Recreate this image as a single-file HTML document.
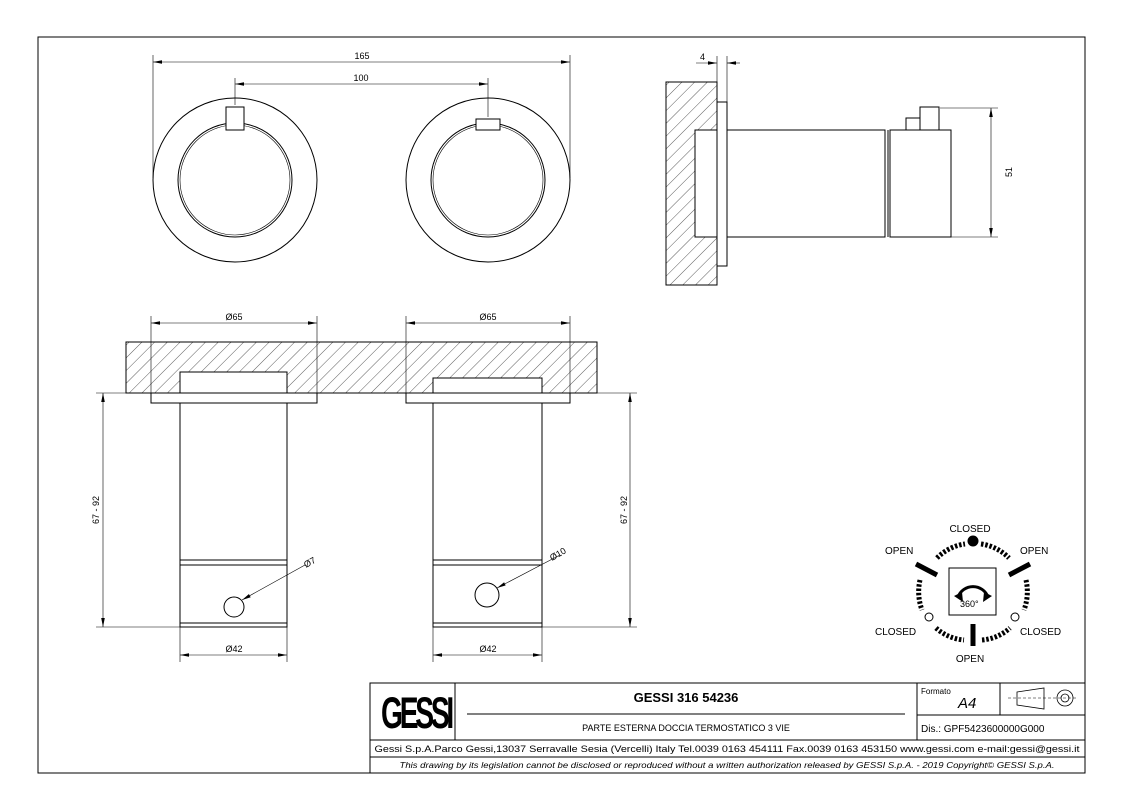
<!DOCTYPE html>
<html><head><meta charset="utf-8"><style>
body{margin:0;background:#fff}
svg{display:block;font-family:"Liberation Sans",sans-serif}
</style></head><body>
<svg width="1123" height="794" viewBox="0 0 1123 794" xmlns="http://www.w3.org/2000/svg">
<defs>
<pattern id="h" width="9" height="9" patternUnits="userSpaceOnUse" patternTransform="rotate(45)">
<rect width="9" height="9" fill="#fff"/><line x1="0" y1="0" x2="0" y2="9" stroke="#333" stroke-width="0.8"/></pattern>
<marker id="a" viewBox="0 0 10 10" refX="10" refY="5" markerWidth="9" markerHeight="9" markerUnits="userSpaceOnUse" orient="auto-start-reverse"><path d="M0,3 L10,5 L0,7z" fill="#000"/></marker>
</defs>
<g fill="none" stroke="#000" stroke-width="1">
<rect x="38" y="37" width="1047" height="736"/>
<circle cx="235" cy="180" r="82"/><circle cx="235" cy="180" r="57"/><circle cx="235" cy="180" r="55" stroke-width="0.6"/>
<rect x="226" y="107" width="18" height="23" fill="#fff"/>
<circle cx="488" cy="180" r="82"/><circle cx="488" cy="180" r="57"/><circle cx="488" cy="180" r="55" stroke-width="0.6"/>
<rect x="476" y="119" width="24" height="11" fill="#fff"/>
<line x1="153" y1="55" x2="153" y2="178" stroke-width="0.6"/><line x1="570" y1="55" x2="570" y2="178" stroke-width="0.6"/>
<line x1="153" y1="62" x2="570" y2="62" stroke-width="0.6" marker-start="url(#a)" marker-end="url(#a)"/>
<line x1="235" y1="78" x2="235" y2="105" stroke-width="0.6"/><line x1="488" y1="78" x2="488" y2="117" stroke-width="0.6"/>
<line x1="235" y1="84" x2="488" y2="84" stroke-width="0.6" marker-start="url(#a)" marker-end="url(#a)"/>
<rect x="666" y="82" width="51" height="203" fill="url(#h)"/>
<rect x="695" y="130" width="22" height="107" fill="#fff"/>
<rect x="717" y="102" width="10" height="164" fill="#fff"/>
<rect x="727" y="130" width="158" height="107"/>
<line x1="888" y1="130" x2="888" y2="237"/>
<rect x="890" y="130" width="61" height="107"/>
<rect x="920" y="107" width="19" height="23"/>
<rect x="906" y="118" width="14" height="12"/>
<line x1="940" y1="108" x2="998" y2="108" stroke-width="0.6"/><line x1="951" y1="237" x2="998" y2="237" stroke-width="0.6"/>
<line x1="991" y1="108" x2="991" y2="237" stroke-width="0.6" marker-start="url(#a)" marker-end="url(#a)"/>
<line x1="717" y1="56" x2="717" y2="102" stroke-width="0.6"/><line x1="727" y1="56" x2="727" y2="102" stroke-width="0.6"/>
<line x1="696" y1="63" x2="717" y2="63" stroke-width="0.6" marker-end="url(#a)"/>
<line x1="740" y1="63" x2="727" y2="63" stroke-width="0.6" marker-end="url(#a)"/>
<rect x="126" y="342" width="471" height="51" fill="url(#h)"/>
<rect x="180" y="372" width="107" height="21" fill="#fff"/>
<rect x="433" y="378" width="109" height="15" fill="#fff"/>
<rect x="151" y="393" width="166" height="10" fill="#fff"/>
<rect x="406" y="393" width="164" height="10" fill="#fff"/>
<rect x="180" y="403" width="107" height="224"/><line x1="180" y1="560" x2="287" y2="560"/><line x1="180" y1="565" x2="287" y2="565"/>
<rect x="433" y="403" width="109" height="224"/><line x1="433" y1="560" x2="542" y2="560"/><line x1="433" y1="565" x2="542" y2="565"/>
<line x1="180" y1="623" x2="287" y2="623"/><line x1="433" y1="623" x2="542" y2="623"/>
<circle cx="234" cy="607" r="10"/><circle cx="487" cy="595" r="12"/>
<line x1="305" y1="565" x2="242" y2="600" stroke-width="0.6" marker-end="url(#a)"/><line x1="560" y1="555" x2="497" y2="588" stroke-width="0.6" marker-end="url(#a)"/>
<line x1="151" y1="316" x2="151" y2="393" stroke-width="0.6"/><line x1="317" y1="316" x2="317" y2="393" stroke-width="0.6"/>
<line x1="151" y1="323" x2="317" y2="323" stroke-width="0.6" marker-start="url(#a)" marker-end="url(#a)"/>
<line x1="406" y1="316" x2="406" y2="393" stroke-width="0.6"/><line x1="570" y1="316" x2="570" y2="393" stroke-width="0.6"/>
<line x1="406" y1="323" x2="570" y2="323" stroke-width="0.6" marker-start="url(#a)" marker-end="url(#a)"/>
<line x1="180" y1="627" x2="180" y2="662" stroke-width="0.6"/><line x1="287" y1="627" x2="287" y2="662" stroke-width="0.6"/>
<line x1="180" y1="655" x2="287" y2="655" stroke-width="0.6" marker-start="url(#a)" marker-end="url(#a)"/>
<line x1="433" y1="627" x2="433" y2="662" stroke-width="0.6"/><line x1="542" y1="627" x2="542" y2="662" stroke-width="0.6"/>
<line x1="433" y1="655" x2="542" y2="655" stroke-width="0.6" marker-start="url(#a)" marker-end="url(#a)"/>
<line x1="96" y1="393" x2="126" y2="393" stroke-width="0.6"/><line x1="96" y1="627" x2="180" y2="627" stroke-width="0.6"/>
<line x1="103" y1="393" x2="103" y2="627" stroke-width="0.6" marker-start="url(#a)" marker-end="url(#a)"/>
<line x1="597" y1="393" x2="637" y2="393" stroke-width="0.6"/><line x1="542" y1="627" x2="637" y2="627" stroke-width="0.6"/>
<line x1="630" y1="393" x2="630" y2="627" stroke-width="0.6" marker-start="url(#a)" marker-end="url(#a)"/>
<rect x="949" y="568" width="47" height="47"/>
<circle cx="929" cy="617" r="4"/><circle cx="1015" cy="617" r="4"/>
<circle cx="973" cy="541" r="5" fill="#000"/>
<g stroke-width="5">
<line x1="916" y1="564" x2="937" y2="575"/><line x1="1030" y1="564" x2="1009" y2="575"/><line x1="973" y1="624" x2="973" y2="646"/>
</g>
<g stroke-width="5" stroke-dasharray="2.5 1.8">
<path d="M937,558 A48,48 0 0 1 965,544"/><path d="M981,544 A48,48 0 0 1 1009,558"/>
<path d="M920,580 A52,52 0 0 0 922,610"/><path d="M1026,580 A52,52 0 0 1 1024,610"/>
<path d="M936,628 A48,48 0 0 0 964,640"/><path d="M982,640 A48,48 0 0 0 1010,628"/>
</g>
<path d="M958,597 A16,16 0 0 1 988,597" stroke-width="3"/>
<rect x="370" y="683" width="715" height="90"/>
<line x1="370" y1="740" x2="1085" y2="740"/><line x1="370" y1="757" x2="1085" y2="757"/>
<line x1="455" y1="683" x2="455" y2="740"/><line x1="917" y1="683" x2="917" y2="740"/>
<line x1="1000" y1="683" x2="1000" y2="715"/><line x1="917" y1="715" x2="1085" y2="715"/>
<line x1="467" y1="714" x2="905" y2="714"/>
<path d="M1017,692 L1044,688 L1044,709 L1017,705z" stroke-width="0.8"/>
<circle cx="1065" cy="698" r="8" stroke-width="0.8"/><circle cx="1065" cy="698" r="4" stroke-width="0.8"/>
<line x1="1008" y1="698" x2="1078" y2="698" stroke-width="0.5" stroke-dasharray="3 2"/>
</g>
<path d="M954,596 L962,592 L963,602z M992,596 L984,592 L983,602z" fill="#000"/>
<g font-size="9" fill="#000">
<text x="362" y="59" text-anchor="middle">165</text>
<text x="361" y="81" text-anchor="middle">100</text>
<text x="700" y="60">4</text>
<text x="1012" y="172" transform="rotate(-90 1012 172)" text-anchor="middle">51</text>
<text x="234" y="320" text-anchor="middle">Ø65</text><text x="488" y="320" text-anchor="middle">Ø65</text>
<text x="234" y="652" text-anchor="middle">Ø42</text><text x="488" y="652" text-anchor="middle">Ø42</text>
<text x="99" y="510" transform="rotate(-90 99 510)" text-anchor="middle">67 - 92</text>
<text x="627" y="510" transform="rotate(-90 627 510)" text-anchor="middle">67 - 92</text>
<text x="306" y="568" transform="rotate(-30 306 568)">Ø7</text>
<text x="552" y="561" transform="rotate(-30 552 561)">Ø10</text>
<text x="970" y="532" text-anchor="middle" font-size="10">CLOSED</text>
<text x="885" y="554" font-size="10">OPEN</text><text x="1020" y="554" font-size="10">OPEN</text>
<text x="875" y="635" font-size="10">CLOSED</text><text x="1020" y="635" font-size="10">CLOSED</text>
<text x="970" y="662" text-anchor="middle" font-size="10">OPEN</text>
<text x="960" y="607" font-size="9">360°</text>
</g>
<text transform="translate(381,728) scale(1,1.7)" font-size="26" font-weight="bold" textLength="70" lengthAdjust="spacingAndGlyphs" fill="#000" letter-spacing="-3">GESSI</text>
<text x="686" y="702" text-anchor="middle" font-size="13" font-weight="bold">GESSI 316 54236</text>
<text x="686" y="731" text-anchor="middle" font-size="9">PARTE ESTERNA DOCCIA TERMOSTATICO 3 VIE</text>
<text x="921" y="694" font-size="8">Formato</text>
<text x="958" y="708" font-size="15" font-style="italic">A4</text>
<text x="921" y="732" font-size="10">Dis.: GPF5423600000G000</text>
<text x="727" y="752" text-anchor="middle" font-size="9.5" textLength="705" lengthAdjust="spacingAndGlyphs">Gessi S.p.A.Parco Gessi,13037 Serravalle Sesia (Vercelli) Italy Tel.0039 0163 454111 Fax.0039 0163 453150 www.gessi.com e-mail:gessi@gessi.it</text>
<text x="727" y="768" text-anchor="middle" font-size="8" font-style="italic" textLength="655" lengthAdjust="spacingAndGlyphs">This drawing by its legislation cannot be disclosed or reproduced without a written authorization released by GESSI S.p.A. - 2019 Copyright© GESSI S.p.A.</text>
</svg>
</body></html>
